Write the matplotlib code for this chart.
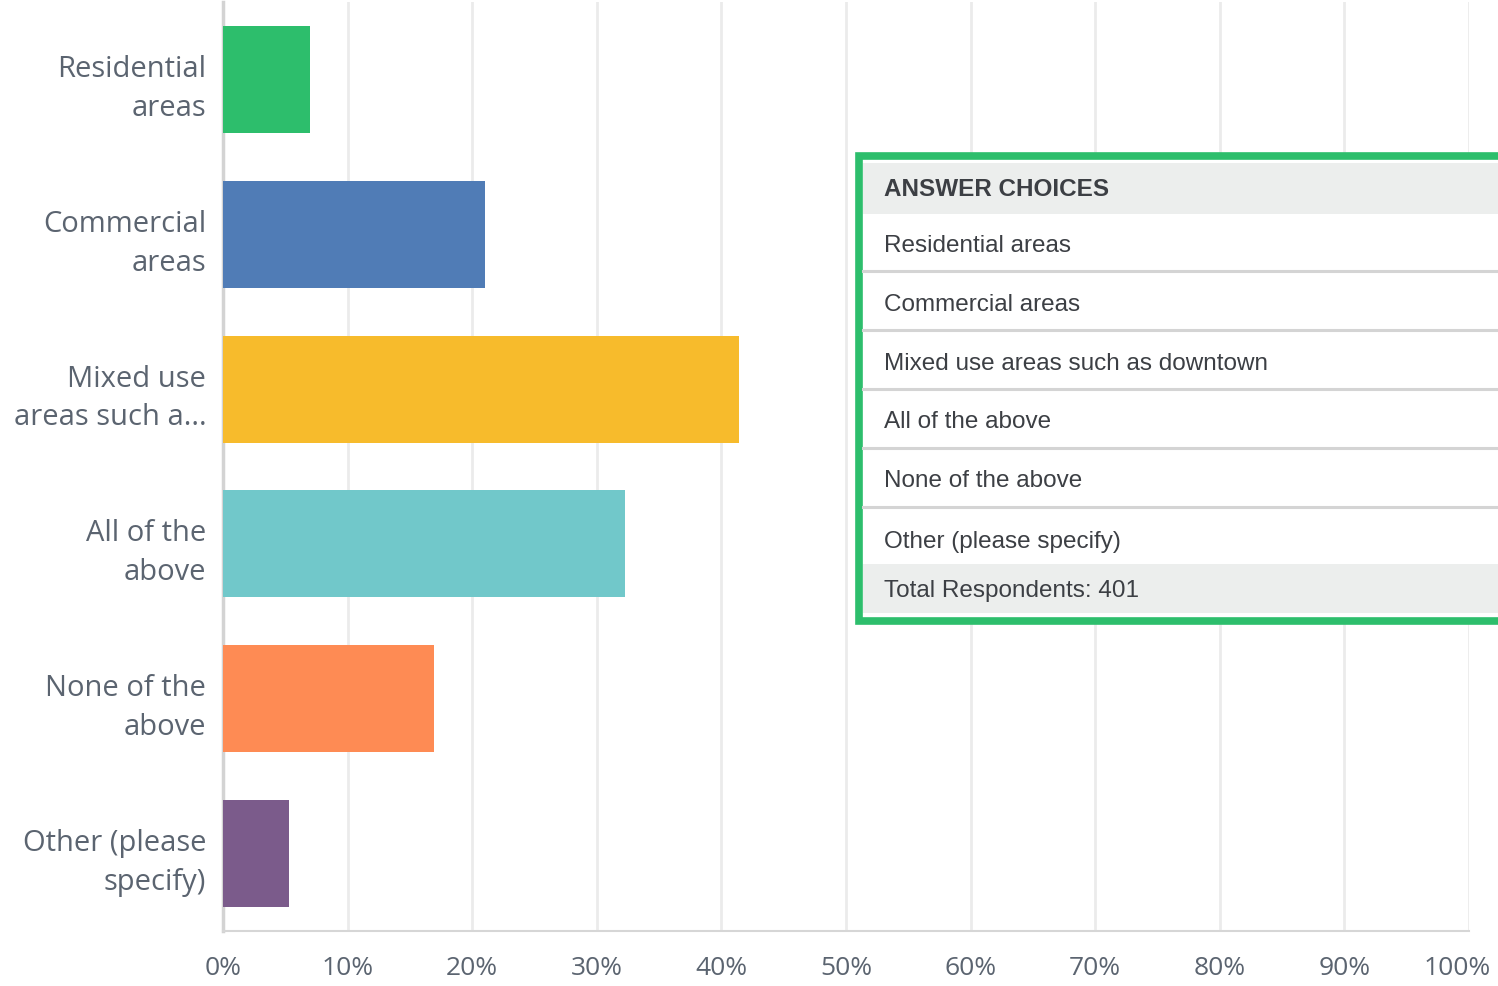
#!/usr/bin/env python3
"""Survey bar chart: where should it be located (answer choices + percentages)."""

import matplotlib
matplotlib.use("Agg")
import matplotlib.pyplot as plt
import matplotlib.transforms as mtransforms
from matplotlib.patches import Rectangle

# Data
tick_labels = [
    "Residential\nareas",
    "Commercial\nareas",
    "Mixed use\nareas such a...",
    "All of the\nabove",
    "None of the\nabove",
    "Other (please\nspecify)",
]
answer_choices = [
    "Residential areas",
    "Commercial areas",
    "Mixed use areas such as downtown",
    "All of the above",
    "None of the above",
    "Other (please specify)",
]
percent = [7.0, 21.0, 41.4, 32.3, 16.9, 5.3]
bar_colors = ["#2dbe6c", "#507cb6", "#f7bb2c", "#71c8ca", "#fe8b54", "#7b5b8b"]
x_ticks = [0, 10, 20, 30, 40, 50, 60, 70, 80, 90, 100]
total_respondents = 401

W, H = 1498, 987
fig = plt.figure(figsize=(W / 100, H / 100), dpi=100)

# Main bar axes
ax = fig.add_axes([223 / W, 1 - 932 / H, (1469 - 223) / W, (932 - 3) / H])
ypos = list(range(len(percent)))
ax.barh(ypos, percent, height=0.69, color=bar_colors, zorder=3)
ax.set_xlim(0, 100)
ax.set_ylim(len(percent) - 0.5, -0.5)
ax.set_xticks(x_ticks)
ax.set_xticklabels([f"{t}%" for t in x_ticks])
ax.set_yticks(ypos)
ax.set_yticklabels(tick_labels, linespacing=1.45)
ax.tick_params(axis="both", length=0, colors="#5b6470")
ax.tick_params(axis="x", pad=17, labelsize=19)
ax.tick_params(axis="y", pad=12, labelsize=21)
for lab in ax.get_xticklabels() + ax.get_yticklabels():
    lab.set_fontfamily("Open Sans")
# last x label sits a bit left so it stays inside the picture
last = ax.get_xticklabels()[-1]
last.set_transform(last.get_transform() + mtransforms.ScaledTranslation(-12 / 100, 0, fig.dpi_scale_trans))
ax.grid(axis="x", color="#ebebeb", linewidth=2, zorder=0)
ax.grid(axis="y", visible=False)
for side in ["top", "right"]:
    ax.spines[side].set_visible(False)
ax.spines["left"].set_color("#d3d3d3")
ax.spines["left"].set_linewidth(2.5)
ax.spines["bottom"].set_color("#d6d6d6")
ax.spines["bottom"].set_linewidth(1.5)

# Overlay in pixel coordinates for the answer-choices table
ov = fig.add_axes([0, 0, 1, 1], zorder=5)
ov.set_xlim(0, W)
ov.set_ylim(H, 0)
ov.axis("off")

left, top, bottom = 859, 157, 622
ov.add_patch(Rectangle((left, top), W - left + 20, bottom - top,
                       facecolor="white", edgecolor="#2dbe6c", linewidth=5.5))
ov.add_patch(Rectangle((left + 4, 164), W, 51, facecolor="#eceeed", edgecolor="none"))
ov.add_patch(Rectangle((left + 4, 565), W, 49, facecolor="#eceeed", edgecolor="none"))
for yl in [272, 331, 390, 449, 508]:
    ov.plot([left + 4, W], [yl, yl], color="#d4d4d4", linewidth=2.2)

txt_kw = dict(ha="left", va="center", color="#3c3f44", fontsize=17.5,
              family="Liberation Sans")
ov.text(884, 190, "ANSWER CHOICES", fontweight="bold", **txt_kw)
row_y = [246, 305, 364, 422, 481, 542]
for yv, name in zip(row_y, answer_choices):
    ov.text(884, yv, name, **txt_kw)
ov.text(884, 591, f"Total Respondents: {total_respondents}", **txt_kw)

fig.savefig("out.png", dpi=100)
